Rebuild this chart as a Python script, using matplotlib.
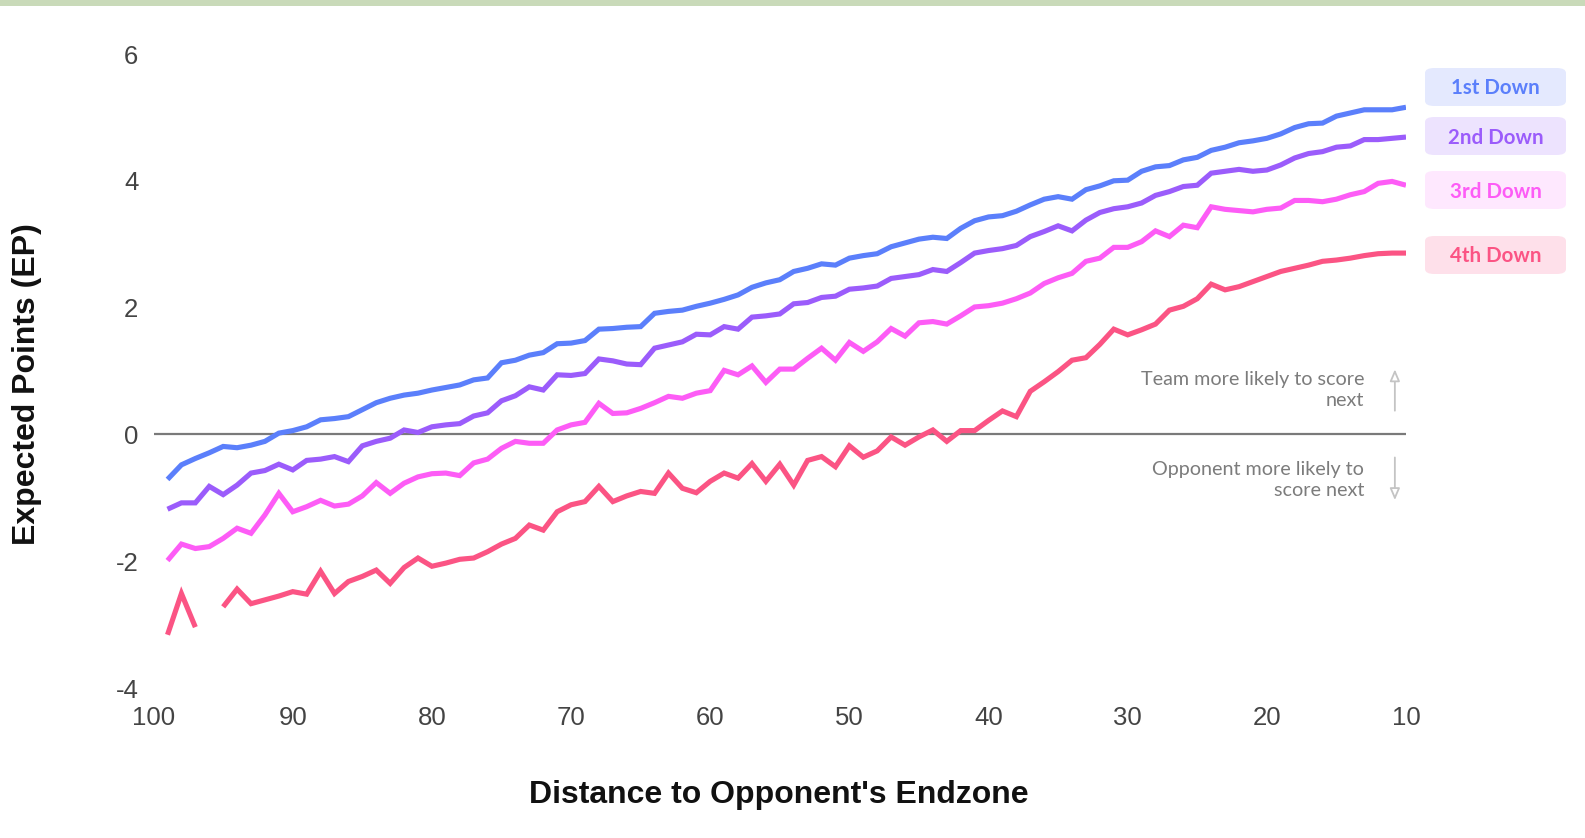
import numpy as np
import matplotlib
matplotlib.use("Agg")
import matplotlib.pyplot as plt
from matplotlib.patches import FancyBboxPatch, Rectangle

plt.rcParams['axes.unicode_minus'] = False

# ---------------- data ----------------
yards = np.arange(99, 9, -1)  # distance to opponent's endzone, 99 .. 10

first_down = [
    -0.71, -0.48, -0.38, -0.29, -0.19, -0.21, -0.17, -0.11, 0.02, 0.06, 0.12, 0.23, 0.25, 0.28, 0.39,
    0.50, 0.57, 0.62, 0.65, 0.70, 0.74, 0.78, 0.86, 0.89, 1.13, 1.17, 1.25, 1.29, 1.43, 1.44,
    1.48, 1.66, 1.67, 1.69, 1.70, 1.91, 1.94, 1.96, 2.02, 2.07, 2.13, 2.20, 2.32, 2.39, 2.44,
    2.57, 2.62, 2.69, 2.67, 2.78, 2.82, 2.85, 2.96, 3.02, 3.08, 3.11, 3.09, 3.25, 3.37, 3.43,
    3.45, 3.52, 3.62, 3.71, 3.75, 3.71, 3.86, 3.92, 4.00, 4.01, 4.15, 4.22, 4.24, 4.33, 4.37,
    4.48, 4.53, 4.60, 4.63, 4.67, 4.74, 4.84, 4.90, 4.91, 5.02, 5.07, 5.12, 5.12, 5.12, 5.16]

second_down = [
    -1.18, -1.08, -1.08, -0.82, -0.95, -0.80, -0.61, -0.57, -0.47, -0.56, -0.41, -0.39, -0.35, -0.43, -0.18,
    -0.11, -0.06, 0.07, 0.03, 0.12, 0.15, 0.17, 0.29, 0.34, 0.53, 0.61, 0.75, 0.70, 0.94, 0.93,
    0.96, 1.19, 1.16, 1.11, 1.10, 1.36, 1.41, 1.46, 1.58, 1.57, 1.70, 1.66, 1.85, 1.87, 1.90,
    2.06, 2.08, 2.16, 2.18, 2.29, 2.31, 2.34, 2.46, 2.49, 2.52, 2.60, 2.57, 2.71, 2.86, 2.90,
    2.93, 2.98, 3.12, 3.20, 3.29, 3.21, 3.38, 3.50, 3.56, 3.59, 3.65, 3.77, 3.83, 3.91, 3.93,
    4.12, 4.15, 4.18, 4.15, 4.17, 4.25, 4.36, 4.43, 4.46, 4.53, 4.55, 4.65, 4.65, 4.67, 4.69]

third_down = [
    -1.99, -1.73, -1.80, -1.77, -1.64, -1.48, -1.56, -1.27, -0.93, -1.22, -1.14, -1.04, -1.13, -1.10, -0.97,
    -0.76, -0.93, -0.77, -0.67, -0.62, -0.61, -0.65, -0.45, -0.39, -0.22, -0.11, -0.14, -0.14, 0.07, 0.15,
    0.19, 0.49, 0.33, 0.34, 0.41, 0.50, 0.60, 0.57, 0.65, 0.69, 1.01, 0.94, 1.08, 0.82, 1.03,
    1.03, 1.20, 1.36, 1.17, 1.45, 1.31, 1.46, 1.67, 1.55, 1.76, 1.78, 1.74, 1.87, 2.01, 2.03,
    2.07, 2.14, 2.23, 2.38, 2.47, 2.54, 2.73, 2.78, 2.95, 2.95, 3.04, 3.21, 3.12, 3.30, 3.26,
    3.59, 3.55, 3.53, 3.51, 3.55, 3.57, 3.69, 3.69, 3.67, 3.71, 3.78, 3.83, 3.96, 3.99, 3.93]

fourth_down = [
    -3.16, -2.51, -3.04, np.nan, -2.72, -2.44, -2.67, -2.61, -2.55, -2.48, -2.52, -2.16, -2.51, -2.32, -2.24,
    -2.14, -2.35, -2.10, -1.95, -2.08, -2.03, -1.97, -1.95, -1.85, -1.73, -1.64, -1.43, -1.51, -1.22, -1.11,
    -1.06, -0.82, -1.06, -0.97, -0.90, -0.93, -0.61, -0.85, -0.92, -0.74, -0.61, -0.69, -0.46, -0.74, -0.47,
    -0.80, -0.41, -0.35, -0.51, -0.18, -0.36, -0.26, -0.04, -0.17, -0.04, 0.07, -0.11, 0.06, 0.06, 0.22,
    0.37, 0.28, 0.68, 0.83, 0.99, 1.17, 1.21, 1.42, 1.66, 1.57, 1.65, 1.74, 1.96, 2.02, 2.14,
    2.37, 2.28, 2.33, 2.41, 2.49, 2.57, 2.62, 2.67, 2.73, 2.75, 2.78, 2.82, 2.85, 2.86, 2.86]

series_names = ["1st Down", "2nd Down", "3rd Down", "4th Down"]
series_values = [first_down, second_down, third_down, fourth_down]
x_ticks = [100, 90, 80, 70, 60, 50, 40, 30, 20, 10]
y_ticks = [-4, -2, 0, 2, 4, 6]

# ---------------- style ----------------
line_colors = ["#5b7ffb", "#9b5cfb", "#fd5cf6", "#fb5484"]
box_fills = ["#e4e9fe", "#ede3fe", "#fee8fe", "#fee0ea"]

W, H = 1585, 838
fig = plt.figure(figsize=(W / 100, H / 100), dpi=100)
fig.patch.set_facecolor("white")

# thin decorative strip on top
fig.patches.append(Rectangle((0, 1 - 6 / H), 1, 6 / H, transform=fig.transFigure,
                             facecolor="#c9dab9", edgecolor="none", zorder=0))

ax_left, ax_right = 153.6 / W, 1406 / W
ax_top, ax_bottom = 1 - 54 / H, 1 - 688 / H
ax = fig.add_axes([ax_left, ax_bottom, ax_right - ax_left, ax_top - ax_bottom])

for vals, col in zip(series_values, line_colors):
    ax.plot(yards, vals, color=col, lw=3.7, solid_joinstyle="miter", solid_capstyle="butt", zorder=3)

ax.axhline(0, color="#7a7a7a", lw=1.6, zorder=2)

ax.set_xlim(100, 10)
ax.set_ylim(-4, 6)
ax.set_xticks(x_ticks)
ax.set_yticks(y_ticks)
ax.set_xticklabels([str(t) for t in x_ticks])
ax.set_yticklabels([str(t) for t in y_ticks])
for s in ax.spines.values():
    s.set_visible(False)
ax.tick_params(axis="both", length=0, labelsize=18.5, labelcolor="#444444")
ax.tick_params(axis="x", pad=13)
ax.tick_params(axis="y", pad=11)
for lab in ax.get_xticklabels() + ax.get_yticklabels():
    lab.set_family("Liberation Sans")

fig.text(779 / W, 1 - 795 / H, "Distance to Opponent's Endzone", ha="center", va="center",
         fontsize=23.0, fontweight="bold", family="Liberation Sans", color="#111111")
fig.text(27 / W, 1 - 384 / H, "Expected Points (EP)", ha="center", va="center", rotation=90,
         fontsize=23.0, fontweight="bold", family="Liberation Sans", color="#111111")

# annotations
ann_style = dict(ha="right", va="center", multialignment="right", fontsize=14.2,
                 color="#7c7c7c", family="Lato", fontweight="normal", linespacing=1.25)
ax.text(13.0, 0.70, "Team more likely to score\nnext", **ann_style)
ax.text(13.0, -0.72, "Opponent more likely to\nscore next", **ann_style)
arrow_props = dict(arrowstyle="-|>,head_length=0.7,head_width=0.3",
                   color="#c4c4c4", lw=1.3, fc="white")
ax.annotate("", xy=(10.8, 1.07), xytext=(10.8, 0.33), arrowprops=arrow_props)
ax.annotate("", xy=(10.8, -1.08), xytext=(10.8, -0.32), arrowprops=arrow_props)

# legend boxes
box_tops = [68, 117, 171, 236]
box_h = 38
bx0, bx1 = 1425, 1566
for name, col, fill, top in zip(series_names, line_colors, box_fills, box_tops):
    p = FancyBboxPatch((bx0 / W, 1 - (top + box_h) / H), (bx1 - bx0) / W, box_h / H,
                       boxstyle="round,pad=0,rounding_size=0.006", transform=fig.transFigure,
                       facecolor=fill, edgecolor="none")
    fig.patches.append(p)
    fig.text((bx0 + bx1) / 2 / W, 1 - (top + box_h / 2 + 1.5) / H, name, ha="center", va="center",
             fontsize=14.8, fontweight="bold", color=col, family="Lato")

fig.savefig("out.png", dpi=100, facecolor="white")
